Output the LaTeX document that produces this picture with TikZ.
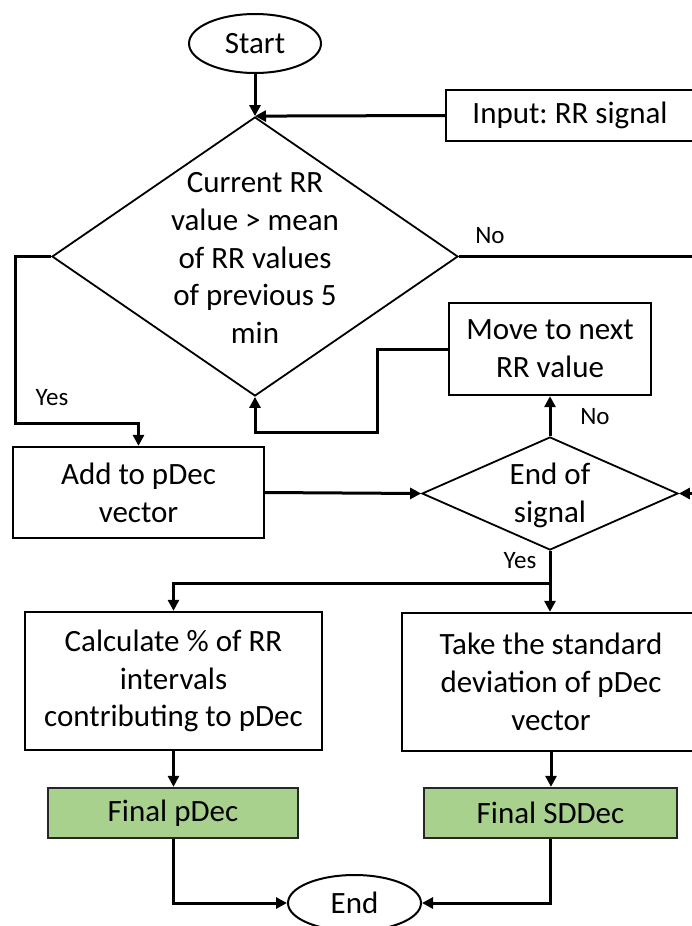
\documentclass[tikz,border=0pt]{standalone}
\usepackage{fontspec}
\setmainfont{Carlito}
\frenchspacing
\usetikzlibrary{shapes.geometric,arrows.meta}
\begin{document}
\begin{tikzpicture}[x=1pt,y=-1pt,
  every node/.style={font=\fontsize{31}{37.8}\selectfont, inner sep=0pt, align=center},
  box/.style={draw, line width=2.3pt, rectangle, fill=white},
  result/.style={box, fill=resgreen, draw=black!85},
  term/.style={draw, line width=2pt, ellipse, fill=white},
  decision/.style={draw, line width=1.8pt, diamond, fill=white},
  flow/.style={line width=3pt, -{Triangle[length=11pt,width=11pt]}},
  plain/.style={line width=3pt},
  tag/.style={font=\fontsize{25}{30}\selectfont}
]
\definecolor{resgreen}{RGB}{169,209,142}
\path[use as bounding box, clip] (0,0) rectangle (692,926);
\fill[white] (0,0) rectangle (692,926);

% terminals
\node[term, minimum width=132pt, minimum height=59pt] (start) at (255,43.5) {Start};
\node[term, minimum width=133pt, minimum height=56pt] (end) at (354.5,903) {End};

% input box (runs past the right edge)
\node[box, minimum width=248pt, minimum height=51pt] (input) at (570,115.5) {Input: RR signal};

% first decision
\node[decision, minimum width=406pt, minimum height=279pt] (d1) at (255,256.5) {};
\node (d1t) at (255,258) {Current RR\\value > mean\\of RR values\\of previous 5\\min};

% process boxes
\node[box, minimum width=251pt, minimum height=91pt] (add) at (138.5,492.5) {Add to pDec\\vector};
\node[box, minimum width=202pt, minimum height=92pt] (move) at (550,349) {Move to next\\RR value};

% second decision
\node[decision, minimum width=256pt, minimum height=113pt] (d2) at (550,493.5) {};
\node (d2t) at (550,495) {End of\\signal};

% outputs
\node[box, minimum width=297pt, minimum height=138pt] (calc) at (173.5,681) {Calculate \% of RR\\intervals\\contributing to pDec};
\node[box, minimum width=298pt, minimum height=138pt] (take) at (551,682) {Take the standard\\deviation of pDec\\vector};
\node[result, minimum width=250pt, minimum height=50pt] (fp) at (173,813) {Final pDec};
\node[result, minimum width=253pt, minimum height=50pt] (fsd) at (550.5,813) {Final SDDec};

% loose ends at the right edge
\coordinate (noexit) at (700,256.5);
\coordinate (loopin) at (700,493.5);
\coordinate (split) at (550,583);

% connectors
\draw[flow] (start.south) -- (d1.north);
\draw[flow] (input.west) -- (d1.north);
\draw[plain] (d1.east) -- (noexit);
\draw[flow] (d1.west) -- (15,256.5) -- (15,423) -- (138.5,423) -- (add.north);
\draw[flow] (add.east) -- (d2.west);
\draw[flow] (d2.north) -- (move.south);
\draw[flow] (move.west) -- (377,349) -- (377,432) -- (255,432) -- (d1.south);
\draw[flow] (loopin) -- (d2.east);
\draw[plain] (d2.south) -- (split);
\draw[flow] (split) -- (split |- take.north);
\draw[flow] (split) -- (173.5,583) -- (calc.north);
\draw[flow] (calc.south) -- (calc.south |- fp.north);
\draw[flow] (take.south) -- (take.south |- fsd.north);
\draw[flow] (fp.south) -- (fp.south |- end.west) -- (end.west);
\draw[flow] (fsd.south) -- (fsd.south |- end.east) -- (end.east);

% branch labels
\node[tag] (no1) at (490,236) {No};
\node[tag] (yes1) at (52,398) {Yes};
\node[tag] (no2) at (595,417) {No};
\node[tag] (yes2) at (520,561) {Yes};
\end{tikzpicture}
\end{document}
